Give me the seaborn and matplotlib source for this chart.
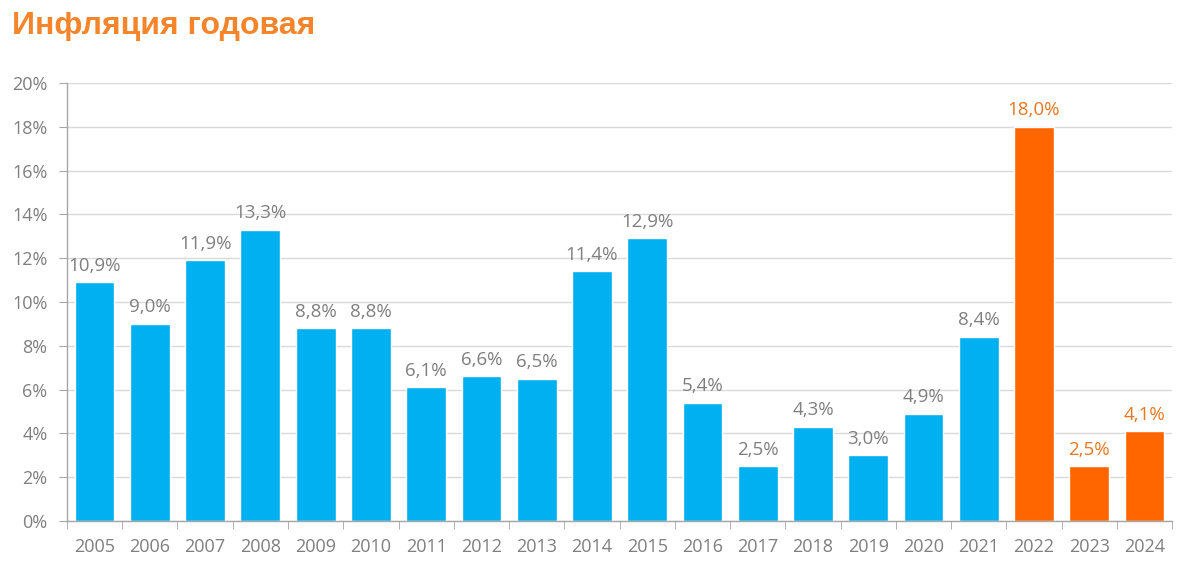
import numpy as np
import pandas as pd
import matplotlib
matplotlib.use("Agg")
import matplotlib.pyplot as plt
import seaborn as sns
from matplotlib.ticker import FixedLocator, FuncFormatter

years = ["2005", "2006", "2007", "2008", "2009", "2010", "2011", "2012", "2013", "2014",
         "2015", "2016", "2017", "2018", "2019", "2020", "2021", "2022", "2023", "2024"]
inflation = [10.9, 9.0, 11.9, 13.3, 8.8, 8.8, 6.1, 6.6, 6.5, 11.4,
             12.9, 5.4, 2.5, 4.3, 3.0, 4.9, 8.4, 18.0, 2.5, 4.1]
highlight = [False] * 17 + [True] * 3

BLUE = "#00B0F0"
ORANGE = "#FF6600"
GRAY = "#7F7F7F"

df = pd.DataFrame({"year": years, "value": inflation,
                   "grp": ["hi" if h else "lo" for h in highlight]})

sns.set_style("white")
plt.rcParams["font.family"] = ["Open Sans", "DejaVu Sans"]

fig = plt.figure(figsize=(12, 5.71), dpi=100)
ax = fig.add_axes([0.0558, 0.0876, 0.921, 0.767])

sns.barplot(data=df, x="year", y="value", hue="grp", palette={"lo": BLUE, "hi": ORANGE},
            width=0.72, dodge=False, legend=False, ax=ax, saturation=1)

ax.set_ylim(0, 20)
ax.set_xlim(-0.5, len(years) - 0.5)
ax.set_yticks(np.arange(0, 21, 2))
ax.yaxis.set_major_formatter(FuncFormatter(lambda v, p: f"{int(v)}%"))
ax.grid(axis="y", color="#D9D9D9", linewidth=1)
ax.set_axisbelow(True)

for s in ["top", "right"]:
    ax.spines[s].set_visible(False)
for s in ["left", "bottom"]:
    ax.spines[s].set_color("#A6A6A6")
    ax.spines[s].set_linewidth(1)

ax.tick_params(axis="y", which="major", length=6, color="#A6A6A6", labelcolor=GRAY,
               labelsize=13, pad=8, left=True)
ax.tick_params(axis="x", which="major", length=0, labelcolor=GRAY, labelsize=13, pad=12)
ax.xaxis.set_minor_locator(FixedLocator(np.arange(-0.5, len(years), 1)))
ax.tick_params(axis="x", which="minor", length=6, color="#A6A6A6", bottom=True)
ax.set_xlabel("")
ax.set_ylabel("")

for i, (v, h) in enumerate(zip(inflation, highlight)):
    ax.text(i, v + 0.35, f"{v:.1f}%".replace(".", ","), ha="center", va="bottom",
            fontsize=13.5, color="#E87722" if h else GRAY)

fig.text(0.01, 0.955, "Инфляция годовая", ha="left", va="center", fontsize=23,
         fontweight="bold", color="#F5842A", family=["Liberation Sans", "DejaVu Sans"])

fig.savefig("out.png", dpi=100)
